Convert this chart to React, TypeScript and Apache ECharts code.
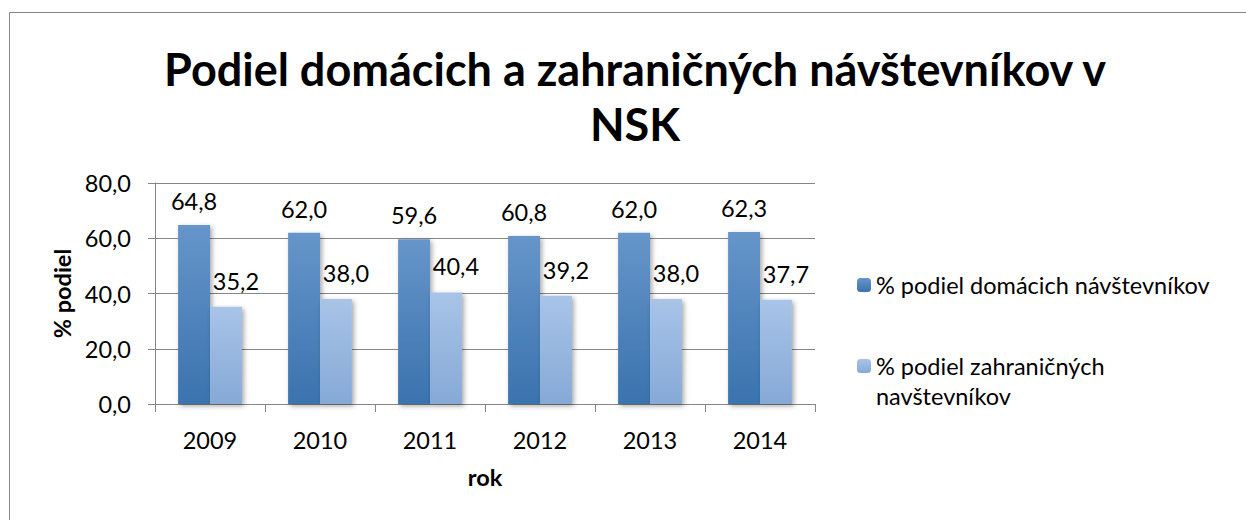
import React, { useEffect, useRef } from "react";
import * as echarts from "echarts";

const years = ["2009", "2010", "2011", "2012", "2013", "2014"];
const domestic = [64.8, 62.0, 59.6, 60.8, 62.0, 62.3];
const foreign = [35.2, 38.0, 40.4, 39.2, 38.0, 37.7];
const seriesNames = ["% podiel domácich návštevníkov", "% podiel zahraničných navštevníkov"];
const titleText = "Podiel domácich a zahraničných návštevníkov v\nNSK";
const yTicks = [0, 20, 40, 60, 80];

const FONT = "Lato";
const FS = 23.5;
const fmt = (v: number) => v.toFixed(1).replace(".", ",");

export default function App() {
  const ref = useRef<HTMLDivElement>(null);
  useEffect(() => {
    if (!ref.current) return;
    const chart = echarts.init(ref.current, undefined, { renderer: "svg" });
    const grad = (a: string, b: string) =>
      new echarts.graphic.LinearGradient(0, 0, 0, 1, [
        { offset: 0, color: a },
        { offset: 1, color: b },
      ]);
    const shadow = {
      shadowColor: "rgba(0,0,0,0.35)",
      shadowBlur: 5,
      shadowOffsetX: 2,
      shadowOffsetY: 2,
    };
    chart.setOption({
      animation: false,
      backgroundColor: "#ffffff",
      textStyle: { fontFamily: FONT },
      title: {
        text: titleText,
        left: 630,
        textAlign: "center",
        top: 36,
        textStyle: { fontFamily: FONT, fontSize: 45, fontWeight: "bold", color: "#000", lineHeight: 55 },
      },
      graphic: [
        {
          type: "rect",
          shape: { x: 9.5, y: 12.5, width: 1400, height: 700 },
          style: { fill: "none", stroke: "#868686", lineWidth: 1 },
          silent: true,
        },
      ],
      legend: [
        {
          data: [seriesNames[0]],
          left: 852,
          top: 265,
          orient: "vertical",
          itemWidth: 14,
          itemHeight: 14,
          textStyle: { fontFamily: FONT, fontSize: FS, color: "#000", lineHeight: 30 },
        },
        {
          data: [seriesNames[1]],
          left: 852,
          top: 316,
          orient: "vertical",
          itemWidth: 14,
          itemHeight: 14,
          formatter: () => "{e|}\n{t|% podiel zahraničných}\n{t|navštevníkov}",
          textStyle: {
            fontFamily: FONT,
            fontSize: FS,
            color: "#000",
            lineHeight: 30,
            rich: {
              e: { height: 30, lineHeight: 30, fontSize: FS, fontFamily: FONT },
              t: { lineHeight: 30, fontSize: FS, fontFamily: FONT, color: "#000" },
            },
          },
        },
      ],
      grid: { left: 155, right: 431, top: 183, bottom: 116 },
      xAxis: {
        type: "category",
        data: years,
        name: "rok",
        nameLocation: "middle",
        nameGap: 61,
        nameTextStyle: { fontFamily: FONT, fontSize: FS, fontWeight: "bold", color: "#000" },
        axisLine: { lineStyle: { color: "#868686" } },
        axisTick: { show: true, length: 8, lineStyle: { color: "#868686" } },
        axisLabel: { fontFamily: FONT, fontSize: FS, color: "#000", margin: 24 },
      },
      yAxis: {
        type: "value",
        min: 0,
        max: 80,
        interval: 20,
        name: "% podiel",
        nameLocation: "middle",
        nameGap: 80,
        nameTextStyle: { fontFamily: FONT, fontSize: FS, fontWeight: "bold", color: "#000" },
        axisLine: { show: true, lineStyle: { color: "#868686" } },
        axisTick: { show: true, length: 7, lineStyle: { color: "#868686" } },
        splitLine: { lineStyle: { color: "#868686" } },
        axisLabel: {
          fontFamily: FONT,
          fontSize: FS,
          color: "#000",
          margin: 24,
          formatter: (v: number) => (yTicks.includes(v) ? fmt(v) : ""),
        },
      },
      series: [
        {
          name: seriesNames[0],
          type: "bar",
          data: domestic,
          barGap: "0%",
          barCategoryGap: "42%",
          itemStyle: { color: grad("#6695c9", "#3a73ae"), ...shadow },
          label: {
            show: true,
            position: "top",
            distance: 12,
            fontFamily: FONT,
            fontSize: FS,
            color: "#000",
            formatter: (p: any) => fmt(p.value),
          },
        },
        {
          name: seriesNames[1],
          type: "bar",
          data: foreign,
          barGap: "0%",
          barCategoryGap: "42%",
          itemStyle: { color: grad("#a8c4e8", "#86a9d6"), ...shadow },
          label: {
            show: true,
            position: "top",
            distance: 14,
            offset: [10, 0],
            fontFamily: FONT,
            fontSize: FS,
            color: "#000",
            formatter: (p: any) => fmt(p.value),
          },
        },
      ],
    });
    return () => chart.dispose();
  }, []);
  return (
    <div
      ref={ref}
      style={{ position: "fixed", left: 0, top: 0, width: 1246, height: 520, background: "#fff" }}
    />
  );
}
